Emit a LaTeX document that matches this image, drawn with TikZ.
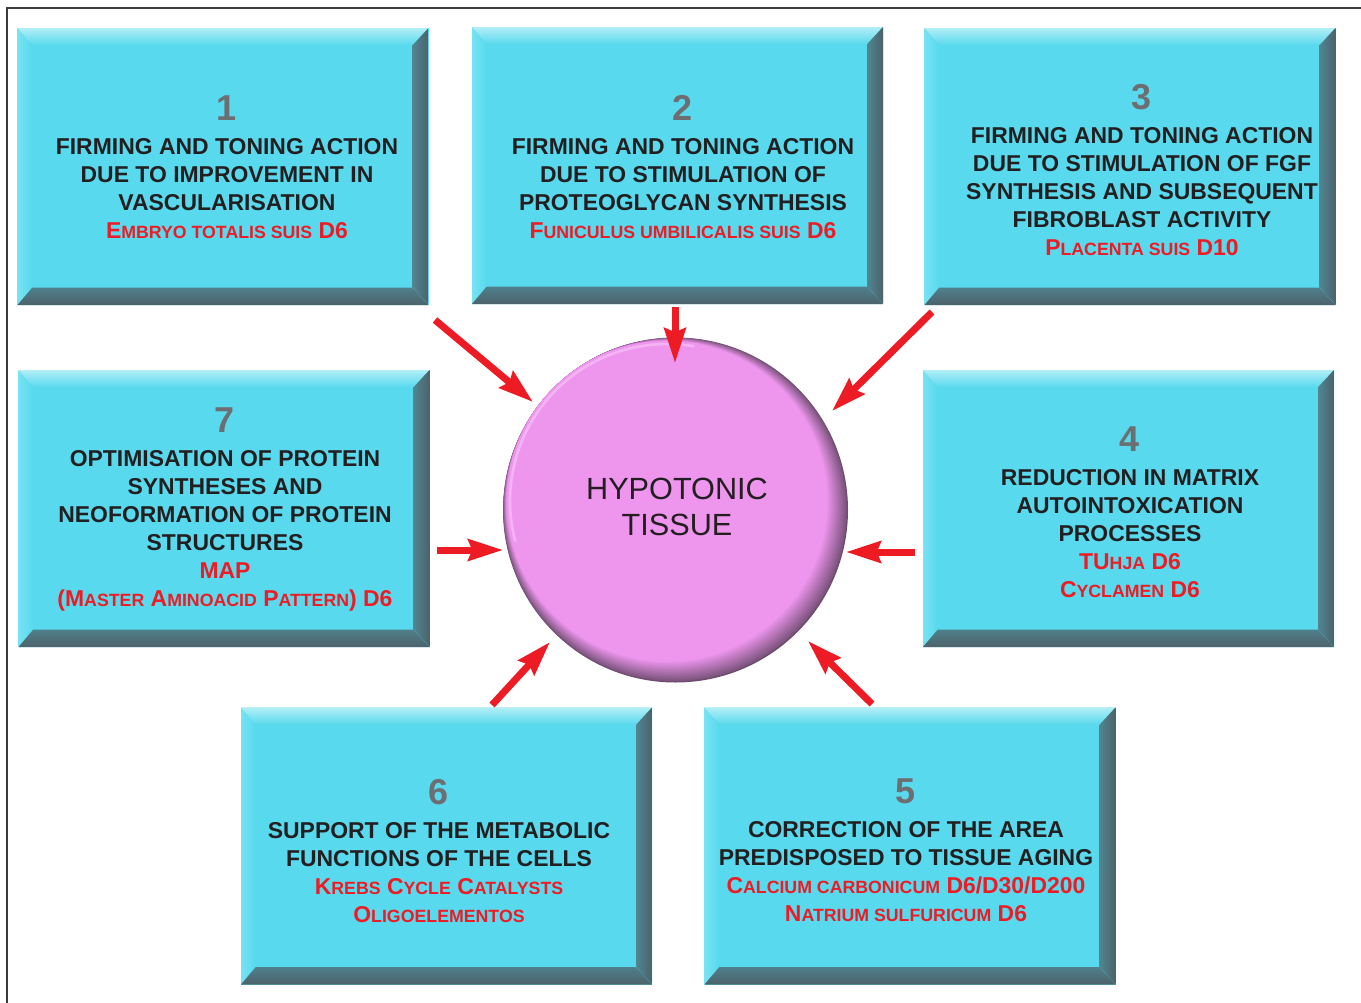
\documentclass[tikz,border=0pt]{standalone}
\usepackage{fontspec}
\setmainfont{Liberation Sans}
\usetikzlibrary{arrows.meta,positioning}

\definecolor{boxcyan}{RGB}{88,217,237}
\definecolor{bevtop}{RGB}{178,238,247}
\definecolor{bevleft}{RGB}{118,227,243}
\definecolor{bevdark}{RGB}{76,98,106}
\definecolor{pinkc}{RGB}{238,150,238}
\definecolor{pinklight}{RGB}{248,200,248}
\definecolor{shadowc}{RGB}{80,58,82}
\definecolor{remred}{RGB}{237,28,36}
\definecolor{numgray}{RGB}{109,110,113}
\definecolor{txtblack}{RGB}{35,31,32}
\definecolor{framec}{RGB}{60,60,60}

\newcommand\smc[1]{{\fontsize{13.3}{13.3}\selectfont #1}}
\newcommand\panelnum[1]{{\fontsize{27}{27}\selectfont\color{numgray}#1}}
\newcommand\rem[1]{\textcolor{remred}{#1}}

\begin{document}
\begin{tikzpicture}[x=0.75pt,y=-0.75pt,
  panel/.style={rectangle, minimum width=308.25pt, minimum height=207.75pt, inner sep=0pt, fill=boxcyan,
    path picture={
      \coordinate (pnw) at (path picture bounding box.north west);
      \coordinate (pne) at (path picture bounding box.north east);
      \coordinate (psw) at (path picture bounding box.south west);
      \coordinate (pse) at (path picture bounding box.south east);
      % left bevel
      \fill[left color=bevleft, right color=boxcyan] (pnw) -- ([shift={(11pt,-13pt)}]pnw) -- ([shift={(11pt,13pt)}]psw) -- (psw) -- cycle;
      % top bevel
      \fill[top color=bevtop, bottom color=boxcyan] (pnw) -- (pne) -- ([shift={(-12pt,-13pt)}]pne) -- ([shift={(11pt,-13pt)}]pnw) -- cycle;
      % right bevel
      \fill[left color=bevdark!70!boxcyan, right color=bevdark] (pne) -- (pse) -- ([shift={(-12pt,13pt)}]pse) -- ([shift={(-12pt,-13pt)}]pne) -- cycle;
      % bottom bevel
      \fill[top color=bevdark!75!boxcyan, bottom color=bevdark] (psw) -- (pse) -- ([shift={(-12pt,13pt)}]pse) -- ([shift={(11pt,13pt)}]psw) -- cycle;
    }},
  paneltext/.style={anchor=north, inner sep=0pt, align=center, text=txtblack,
    font=\fontsize{17.2}{21}\selectfont\bfseries},
  hypo/.style={circle, minimum size=258pt, inner sep=0pt, align=center, text=txtblack,
    font=\fontsize{23}{27.5}\selectfont},
  feed/.style={draw=remred, line width=5.25pt, -{Stealth[length=26pt,width=16pt,inset=3pt]}}
]
\useasboundingbox (0,0) rectangle (1361,1003);

% frame
\draw [framec, line width=1.1pt] (7,1003) -- (7,8) -- (1361,8);

% panels
\node [panel] (b1) at (223,166.5) {};
\node [panel] (b2) at (677.5,165.5) {};
\node [panel] (b3) at (1130,166.5) {};
\node [panel] (b7) at (224,508.5) {};
\node [panel] (b4) at (1128.5,508.5) {};
\node [panel] (b6) at (446.5,846) {};
\node [panel] (b5) at (910,846) {};

% panel texts
\node [paneltext] (l1) at (227,95) {\panelnum{1}\\[4.7pt]
  FIRMING AND TONING ACTION\\ DUE TO IMPROVEMENT IN\\ VASCULARISATION\\
  \rem{E\smc{MBRYO TOTALIS SUIS} D6}};
\node [paneltext] (l2) at (683,95) {\panelnum{2}\\[4.7pt]
  FIRMING AND TONING ACTION\\ DUE TO STIMULATION OF\\ PROTEOGLYCAN SYNTHESIS\\
  \rem{F\smc{UNICULUS UMBILICALIS SUIS} D6}};
\node [paneltext] (l3) at (1142,84) {\panelnum{3}\\[4.7pt]
  FIRMING AND TONING ACTION\\ DUE TO STIMULATION OF FGF\\ SYNTHESIS AND SUBSEQUENT\\ FIBROBLAST ACTIVITY\\
  \rem{P\smc{LACENTA SUIS} D10}};
\node [paneltext] (l7) at (225,407) {\panelnum{7}\\[4.7pt]
  OPTIMISATION OF PROTEIN\\ SYNTHESES AND\\ NEOFORMATION OF PROTEIN\\ STRUCTURES\\
  \rem{MAP}\\ \rem{(M\smc{ASTER} A\smc{MINOACID} P\smc{ATTERN}) D6}};
\node [paneltext] (l4) at (1130,426) {\panelnum{4}\\[4.7pt]
  REDUCTION IN MATRIX\\ AUTOINTOXICATION\\ PROCESSES\\
  \rem{TU\smc{HJA} D6}\\ \rem{C\smc{YCLAMEN} D6}};
\node [paneltext] (l6) at (439,779) {\panelnum{6}\\[4.7pt]
  SUPPORT OF THE METABOLIC\\ FUNCTIONS OF THE CELLS\\
  \rem{K\smc{REBS} C\smc{YCLE} C\smc{ATALYSTS}}\\ \rem{O\smc{LIGOELEMENTOS}}};
\node [paneltext] (l5) at (906,778) {\panelnum{5}\\[4.7pt]
  CORRECTION OF THE AREA\\ PREDISPOSED TO TISSUE AGING\\
  \rem{C\smc{ALCIUM CARBONICUM} D6/D30/D200}\\ \rem{N\smc{ATRIUM SULFURICUM} D6}};

% central circle
\fill [shadowc!80!pinkc] (675.5,510) circle (172.5);
\foreach \i in {1,...,14} {
  \pgfmathsetmacro\mixv{25+\i*75/14}
  \fill [pinkc!\mixv!shadowc] ({675.5-0.6*\i},{510-0.62*\i}) circle ({172.5-0.86*\i});
}
\draw [pinklight, line width=2pt, opacity=0.6] (667,501) ++(165:157) arc (165:280:157);
\node [hypo] (hyp) at (677,507) {HYPOTONIC\\TISSUE};

% arrows
\coordinate (s1) at (435,320); \coordinate (e1) at (533,402);
\coordinate (s2) at (675,307); \coordinate (e2) at (675,363);
\coordinate (s3) at (932,312); \coordinate (e3) at (832,411);
\coordinate (s7) at (437,550); \coordinate (e7) at (503,550);
\coordinate (s4) at (915,552); \coordinate (e4) at (846,552);
\coordinate (s6) at (492,705); \coordinate (e6) at (550,642);
\coordinate (s5) at (872,704); \coordinate (e5) at (808,641);
\foreach \k in {1,2,3,4,5,6,7} {
  \draw [feed] (s\k) -- (e\k);
}

\end{tikzpicture}
\end{document}
